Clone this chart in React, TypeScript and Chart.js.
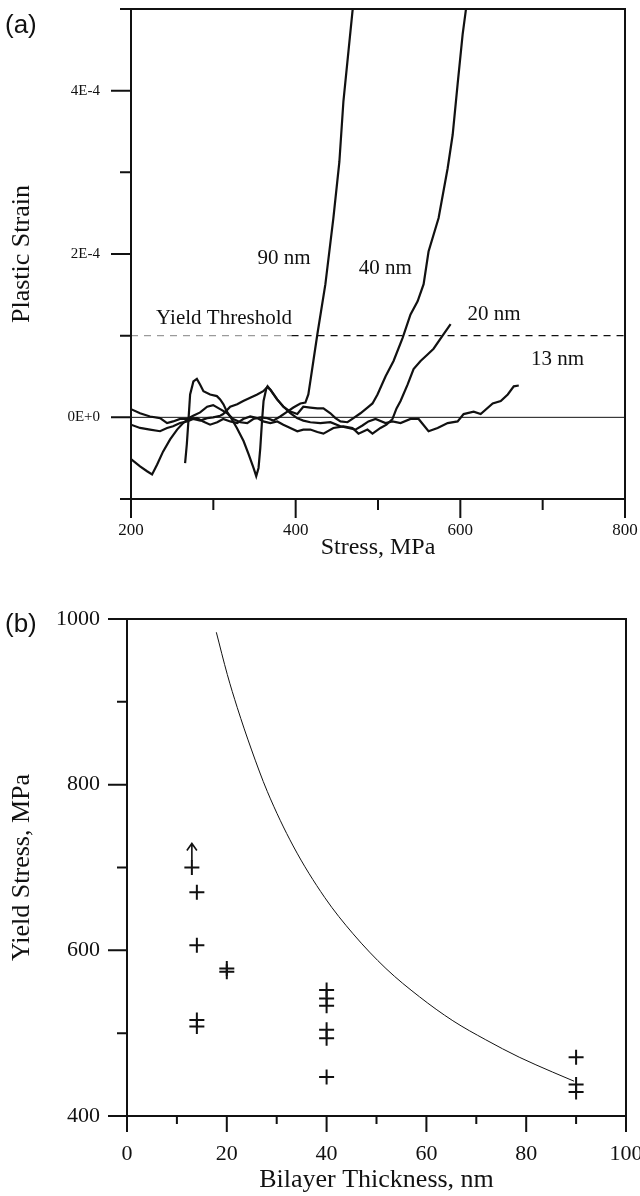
import React, { useEffect, useRef } from "react";
import { Chart, registerables } from "chart.js";

Chart.register(...registerables);

// ---------- (a) Plastic strain vs stress (strain in units of 1E-4) ----------
const stress90 = [200.0, 211.0, 223.1, 235.3, 243.8, 251.1, 259.6, 268.2, 275.5, 284.0, 292.5, 299.8, 308.3, 316.8, 324.1, 332.7, 341.2, 348.5, 357.0, 365.5, 372.8, 381.3, 389.9, 397.2, 405.7, 411.8, 415.4, 417.8, 421.5, 426.4, 436.1, 445.8, 453.1, 458.0, 464.1, 469.0, 470.2];
const strain90 = [0.10, 0.05, 0.01, -0.01, -0.07, -0.05, -0.02, -0.02, 0.02, 0.06, 0.13, 0.15, 0.10, 0.05, -0.02, -0.06, -0.07, -0.02, 0.00, -0.01, -0.04, 0.01, 0.07, 0.12, 0.17, 0.18, 0.28, 0.44, 0.69, 1.02, 1.63, 2.44, 3.13, 3.87, 4.48, 4.97, 5.07];

const stress40 = [200.0, 211.0, 223.1, 235.3, 243.8, 251.1, 259.6, 268.2, 275.5, 284.0, 292.5, 299.8, 308.3, 312.0, 320.5, 329.0, 336.3, 344.8, 353.3, 360.6, 365.5, 369.2, 377.7, 385.0, 393.5, 402.0, 409.3, 417.8, 426.4, 433.7, 442.2, 448.3, 454.4, 462.9, 470.2, 478.7, 487.2, 493.3, 499.4, 509.1, 518.9, 529.8, 539.5, 548.1, 555.4, 561.4, 573.6, 584.6, 590.7, 596.7, 602.8, 606.5, 607.7];
const strain40 = [-0.09, -0.13, -0.15, -0.17, -0.13, -0.11, -0.07, -0.05, -0.02, -0.04, -0.01, 0.00, 0.02, 0.04, 0.13, 0.16, 0.20, 0.24, 0.28, 0.32, 0.37, 0.34, 0.22, 0.13, 0.07, 0.04, 0.13, 0.12, 0.11, 0.11, 0.05, -0.01, -0.05, -0.06, -0.01, 0.05, 0.12, 0.17, 0.28, 0.50, 0.69, 0.97, 1.26, 1.42, 1.63, 2.03, 2.44, 3.05, 3.46, 4.08, 4.69, 4.97, 5.07];

const stress20 = [200.0, 211.0, 219.5, 225.6, 231.6, 238.9, 247.5, 256.0, 263.3, 269.4, 280.3, 287.6, 296.1, 304.7, 312.0, 320.5, 329.0, 336.3, 344.8, 353.3, 360.6, 369.2, 377.7, 385.0, 393.5, 402.0, 409.3, 417.8, 426.4, 433.7, 445.8, 458.0, 469.0, 476.3, 487.2, 493.3, 503.0, 510.3, 517.6, 522.5, 527.4, 535.9, 543.2, 551.7, 560.2, 567.5, 579.7, 588.2];
const strain20 = [-0.51, -0.60, -0.66, -0.70, -0.58, -0.42, -0.27, -0.15, -0.07, -0.02, -0.01, -0.05, -0.09, -0.06, -0.02, -0.05, -0.07, -0.02, 0.01, -0.01, -0.05, -0.07, -0.05, -0.09, -0.13, -0.17, -0.15, -0.15, -0.18, -0.20, -0.13, -0.11, -0.13, -0.20, -0.15, -0.20, -0.13, -0.09, -0.02, 0.11, 0.20, 0.40, 0.59, 0.69, 0.77, 0.84, 1.02, 1.14];

const stress13 = [265.7, 267.8, 269.7, 271.8, 275.8, 280.0, 284.0, 288.0, 296.1, 304.3, 308.3, 312.3, 316.5, 320.5, 328.6, 336.7, 342.8, 348.8, 352.1, 354.9, 357.0, 359.1, 361.0, 364.3, 365.9, 369.2, 377.3, 385.3, 393.5, 401.7, 409.3, 417.8, 430.0, 442.2, 454.4, 464.1, 472.6, 481.1, 488.4, 497.0, 509.1, 517.6, 527.4, 539.5, 549.3, 561.4, 572.4, 584.6, 596.7, 604.0, 616.2, 624.7, 639.3, 649.1, 657.6, 664.9, 671.0];
const strain13 = [-0.56, -0.33, -0.05, 0.28, 0.44, 0.47, 0.40, 0.32, 0.28, 0.26, 0.22, 0.16, 0.07, 0.01, -0.13, -0.29, -0.45, -0.62, -0.72, -0.62, -0.38, -0.05, 0.20, 0.35, 0.38, 0.34, 0.22, 0.13, 0.05, -0.01, -0.04, -0.06, -0.07, -0.06, -0.11, -0.13, -0.15, -0.10, -0.05, -0.02, -0.07, -0.05, -0.07, -0.02, -0.02, -0.17, -0.13, -0.07, -0.05, 0.04, 0.07, 0.04, 0.17, 0.20, 0.28, 0.38, 0.39];

const thresholdStress = [200, 395, 800];
const thresholdStrain = [1, 1, 1];
const zeroStress = [200, 800];
const zeroStrain = [0, 0];

const curveLabels = ["90 nm", "40 nm", "20 nm", "13 nm", "Yield Threshold"];
const curveLabelStress = [386, 509, 641, 718, 313];
const curveLabelStrain = [1.95, 1.82, 1.26, 0.71, 1.21];

// ---------- (b) Yield stress vs bilayer thickness ----------
const measuredThickness = [14, 14, 20, 20, 14, 14, 40, 40, 40, 40, 40, 40, 90, 90, 90];
const measuredStress = [670, 606, 578, 574, 516, 508, 552, 542, 533, 504, 494, 447, 471, 438, 429];
const lowerBoundThickness = [13];
const lowerBoundStress = [700];
const fitThickness = [17.9, 20.1, 22.1, 24.9, 28.1, 33.3, 39.6, 45.3, 51.9, 58.6, 65.3, 71.9, 78.6, 85.3, 89.6];
const fitStress = [984, 933, 893, 843, 792, 726, 664, 620, 578, 544, 515, 492, 471, 453, 442];

const INK = "#111";
const SERIF = '"Liberation Serif", "DejaVu Serif", serif';
const SANS = '"Liberation Sans", Arial, sans-serif';

const zip = (xs: number[], ys: number[]) => xs.map((x, i) => ({ x, y: ys[i] }));

function drawFrame(chart: any, xMajor: (v: number) => boolean, yMajor: (v: number) => boolean, xLen: [number, number], yLen: [number, number]) {
  const { ctx, chartArea, scales } = chart;
  const { left, right, top, bottom } = chartArea;
  ctx.save();
  ctx.strokeStyle = INK;
  ctx.lineWidth = 2;
  ctx.strokeRect(left, top, right - left, bottom - top);
  ctx.beginPath();
  for (const t of scales.x.ticks) {
    const px = scales.x.getPixelForValue(t.value);
    const len = xMajor(t.value) ? xLen[0] : xLen[1];
    ctx.moveTo(px, bottom);
    ctx.lineTo(px, bottom + len);
  }
  for (const t of scales.y.ticks) {
    const py = scales.y.getPixelForValue(t.value);
    const len = yMajor(t.value) ? yLen[0] : yLen[1];
    ctx.moveTo(left - len, py);
    ctx.lineTo(left, py);
  }
  ctx.stroke();
  ctx.restore();
}

// canvas A is shifted up by this many pixels (hidden by the clipping wrapper)
const A_SHIFT = 40;

const frameA = {
  id: "frameA",
  afterDraw(chart: any) {
    const near = (v: number, m: number) => Math.abs(Math.round(v) % m) === 0;
    drawFrame(chart, (v) => near(v, 200), (v) => near(v, 2), [19, 11], [20, 11]);
    const { ctx, scales } = chart;
    ctx.save();
    ctx.fillStyle = INK;
    ctx.textAlign = "center";
    ctx.textBaseline = "middle";
    ctx.font = `21px ${SERIF}`;
    curveLabels.forEach((t, i) => {
      ctx.fillText(t, scales.x.getPixelForValue(curveLabelStress[i]), scales.y.getPixelForValue(curveLabelStrain[i]));
    });
    ctx.textAlign = "left";
    ctx.font = `26px ${SANS}`;
    ctx.fillText("(a)", 5, 26 + A_SHIFT);
    ctx.restore();
  },
};

const frameB = {
  id: "frameB",
  afterDraw(chart: any) {
    const near = (v: number, m: number) => Math.abs(Math.round(v) % m) === 0;
    drawFrame(chart, (v) => near(v, 20), (v) => near(v, 200), [16, 8], [19, 10]);
    const { ctx, scales } = chart;
    ctx.save();
    ctx.strokeStyle = INK;
    ctx.lineWidth = 1.6;
    lowerBoundThickness.forEach((h, i) => {
      const px = scales.x.getPixelForValue(h);
      const py = scales.y.getPixelForValue(lowerBoundStress[i]);
      ctx.beginPath();
      ctx.moveTo(px, py - 7);
      ctx.lineTo(px, py - 24);
      ctx.moveTo(px - 5, py - 17);
      ctx.lineTo(px, py - 24);
      ctx.lineTo(px + 5, py - 17);
      ctx.stroke();
    });
    ctx.fillStyle = INK;
    ctx.textAlign = "left";
    ctx.textBaseline = "middle";
    ctx.font = `26px ${SANS}`;
    ctx.fillText("(b)", 5, 45);
    ctx.restore();
  },
};

function makeA(canvas: HTMLCanvasElement) {
  const line = (data: any[], extra: any = {}) => ({
    data,
    showLine: true,
    borderColor: INK,
    borderWidth: 2.2,
    pointRadius: 0,
    tension: 0,
    fill: false,
    ...extra,
  });
  return new Chart(canvas, {
    type: "scatter",
    data: {
      datasets: [
        line(zip(zeroStress, zeroStrain), { borderWidth: 1 }),
        line(zip(thresholdStress, thresholdStrain), {
          borderWidth: 1.3,
          borderDash: [7, 6],
          segment: { borderColor: (c: any) => (c.p0.parsed.x < 390 ? "#9a9a9a" : INK) },
        }),
        line(zip(stress90, strain90)),
        line(zip(stress40, strain40)),
        line(zip(stress20, strain20)),
        line(zip(stress13, strain13)),
      ],
    },
    options: {
      animation: false,
      responsive: false,
      devicePixelRatio: 1,
      events: [],
      layout: { padding: { left: 0, top: 9 + A_SHIFT, right: 55, bottom: 0 } },
      plugins: { legend: { display: false }, tooltip: { enabled: false } },
      scales: {
        x: {
          type: "linear",
          min: 200,
          max: 800,
          grid: { display: false, drawTicks: false },
          border: { display: false },
          ticks: {
            stepSize: 100,
            autoSkip: false,
            maxRotation: 0,
            padding: 23,
            color: INK,
            font: { family: SERIF, size: 17, lineHeight: 1 },
            callback: (v: any) => (Math.round(v) % 200 === 0 ? String(Math.round(v)) : ""),
          },
          title: {
            display: true,
            text: "Stress, MPa",
            color: INK,
            font: { family: SERIF, size: 24, lineHeight: 1 },
            padding: { top: 0, bottom: 20 },
          },
          afterFit: (s: any) => {
            s.height = 81;
          },
        },
        y: {
          type: "linear",
          min: -1,
          max: 5,
          grid: { display: false, drawTicks: false },
          border: { display: false },
          ticks: {
            stepSize: 1,
            autoSkip: false,
            padding: 31,
            color: INK,
            font: { family: SERIF, size: 15, lineHeight: 1 },
            callback: (v: any) => {
              const n = Math.round(v);
              if (n === 0) return "0E+0";
              return n % 2 === 0 && n > 0 ? `${n}E-4` : "";
            },
          },
          title: {
            display: true,
            text: "Plastic Strain",
            color: INK,
            font: { family: SERIF, size: 26, lineHeight: 1 },
            padding: { top: 9, bottom: 0 },
          },
          afterFit: (s: any) => {
            s.width = 131;
          },
        },
      },
    },
    plugins: [frameA],
  } as any);
}

function makeB(canvas: HTMLCanvasElement) {
  return new Chart(canvas, {
    type: "scatter",
    data: {
      datasets: [
        {
          data: zip(fitThickness, fitStress),
          showLine: true,
          borderColor: INK,
          borderWidth: 1,
          pointRadius: 0,
          cubicInterpolationMode: "monotone",
          fill: false,
        },
        {
          data: zip(measuredThickness, measuredStress),
          showLine: false,
          pointStyle: "cross",
          pointRadius: 7.5,
          borderColor: INK,
          backgroundColor: INK,
          pointBorderWidth: 2,
        },
        {
          data: zip(lowerBoundThickness, lowerBoundStress),
          showLine: false,
          pointStyle: "cross",
          pointRadius: 7.5,
          borderColor: INK,
          backgroundColor: INK,
          pointBorderWidth: 2,
        },
      ],
    },
    options: {
      animation: false,
      responsive: false,
      devicePixelRatio: 1,
      events: [],
      layout: { padding: { left: 0, top: 39, right: 54, bottom: 0 } },
      plugins: { legend: { display: false }, tooltip: { enabled: false } },
      scales: {
        x: {
          type: "linear",
          min: 0,
          max: 100,
          grid: { display: false, drawTicks: false },
          border: { display: false },
          ticks: {
            stepSize: 10,
            autoSkip: false,
            maxRotation: 0,
            padding: 27,
            color: INK,
            font: { family: SERIF, size: 22, lineHeight: 1 },
            callback: (v: any) => (Math.round(v) % 20 === 0 ? String(Math.round(v)) : ""),
          },
          title: {
            display: true,
            text: "Bilayer Thickness, nm",
            color: INK,
            font: { family: SERIF, size: 26, lineHeight: 1 },
            padding: { top: 0, bottom: 3 },
          },
          afterFit: (s: any) => {
            s.height = 80;
          },
        },
        y: {
          type: "linear",
          min: 400,
          max: 1000,
          grid: { display: false, drawTicks: false },
          border: { display: false },
          ticks: {
            stepSize: 100,
            autoSkip: false,
            padding: 27,
            color: INK,
            font: { family: SERIF, size: 22, lineHeight: 1 },
            callback: (v: any) => (Math.round(v) % 200 === 0 ? String(Math.round(v)) : ""),
          },
          title: {
            display: true,
            text: "Yield Stress, MPa",
            color: INK,
            font: { family: SERIF, size: 26, lineHeight: 1 },
            padding: { top: 9, bottom: 0 },
          },
          afterFit: (s: any) => {
            s.width = 127;
          },
        },
      },
    },
    plugins: [frameB],
  } as any);
}

export default function App() {
  const refA = useRef<HTMLCanvasElement>(null);
  const refB = useRef<HTMLCanvasElement>(null);
  useEffect(() => {
    const a = makeA(refA.current!);
    const b = makeB(refB.current!);
    return () => {
      a.destroy();
      b.destroy();
    };
  }, []);
  return (
    <div style={{ position: "absolute", left: 0, top: 0, width: 640, height: 1196, overflow: "hidden", background: "#fff" }}>
      <canvas ref={refA} width={680} height={580 + A_SHIFT} style={{ position: "absolute", left: 0, top: -A_SHIFT, width: 680, height: 580 + A_SHIFT }} />
      <canvas ref={refB} width={680} height={616} style={{ position: "absolute", left: 0, top: 580, width: 680, height: 616 }} />
    </div>
  );
}
